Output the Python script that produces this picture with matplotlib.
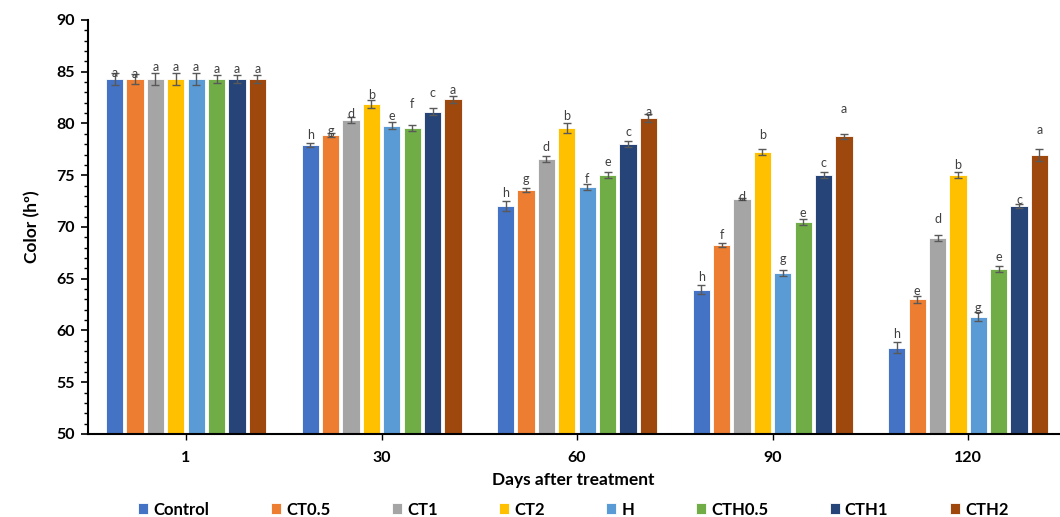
import numpy as np
import matplotlib
matplotlib.use('Agg')
import matplotlib.pyplot as plt
from matplotlib.ticker import MultipleLocator

plt.rcParams['font.family'] = ['Lato', 'DejaVu Sans']

days = ['1', '30', '60', '90', '120']
treatments = ['Control', 'CT0.5', 'CT1', 'CT2', 'H', 'CTH0.5', 'CTH1', 'CTH2']
colors = ['#4472C4', '#ED7D31', '#A5A5A5', '#FFC000', '#5B9BD5', '#70AD47', '#264478', '#9E480E']

# mean colour (h deg) per treatment, one value per day
control = [84.3, 77.95, 72.05, 63.95, 58.35]
ct05 = [84.3, 78.85, 73.6, 68.25, 63.0]
ct1 = [84.3, 80.35, 76.55, 72.75, 68.95]
ct2 = [84.3, 81.85, 79.55, 77.25, 75.05]
h = [84.3, 79.8, 73.85, 65.55, 61.35]
cth05 = [84.3, 79.6, 75.05, 70.5, 65.95]
cth1 = [84.3, 81.15, 78.05, 75.05, 72.05]
cth2 = [84.3, 82.35, 80.55, 78.75, 76.95]

err_control = [0.6, 0.2, 0.5, 0.4, 0.5]
err_ct05 = [0.5, 0.2, 0.2, 0.2, 0.3]
err_ct1 = [0.6, 0.3, 0.3, 0.1, 0.3]
err_ct2 = [0.6, 0.4, 0.5, 0.3, 0.3]
err_h = [0.6, 0.3, 0.3, 0.3, 0.4]
err_cth05 = [0.4, 0.3, 0.3, 0.3, 0.3]
err_cth1 = [0.4, 0.35, 0.3, 0.3, 0.2]
err_cth2 = [0.4, 0.35, 0.4, 0.2, 0.6]

letters_control = ['a', 'h', 'h', 'h', 'h']
letters_ct05 = ['a', 'g', 'g', 'f', 'e']
letters_ct1 = ['a', 'd', 'd', 'd', 'd']
letters_ct2 = ['a', 'b', 'b', 'b', 'b']
letters_h = ['a', 'e', 'f', 'g', 'g']
letters_cth05 = ['a', 'f', 'e', 'e', 'e']
letters_cth1 = ['a', 'c', 'c', 'c', 'c']
letters_cth2 = ['a', 'a', 'a', 'a', 'a']

means = [control, ct05, ct1, ct2, h, cth05, cth1, cth2]
errs = [err_control, err_ct05, err_ct1, err_ct2, err_h, err_cth05, err_cth1, err_cth2]
letters = [letters_control, letters_ct05, letters_ct1, letters_ct2, letters_h,
           letters_cth05, letters_cth1, letters_cth2]

# label gap above the error bar, in pixels (as placed in the original)
gaps = [[0, 8, 8, 8, 8],
        [0, 2, 9, 8, 5],
        [6, 3, 9, 1, 16],
        [6, 5, 7, 14, 7],
        [6, 6, 5, 11, 4],
        [6, 21, 10, 6, 9],
        [6, 15, 9, 9, 4],
        [6, 6, 2, 25, 19]]

fig = plt.figure(figsize=(10.6, 5.17), dpi=100)
ax = fig.add_axes([87.5 / 1060, 1 - 434 / 517, (1060 - 87.5) / 1060, 414 / 517])

x = np.arange(len(days))
step = 0.1043
width = 0.088
for i, name in enumerate(treatments):
    pos = x + (i - 3.5) * step
    ax.bar(pos, means[i], width, color=colors[i], edgecolor='white', linewidth=0.6,
           label=name, zorder=2)
    ax.errorbar(pos, means[i], yerr=errs[i], fmt='none', ecolor='#595959',
                elinewidth=1.0, capsize=3, capthick=1.0, zorder=3)
    for j in range(len(days)):
        ax.annotate(letters[i][j], (pos[j], means[i][j] + errs[i][j]),
                    xytext=(0, gaps[i][j] * 0.72), textcoords='offset points',
                    ha='center', va='center', fontsize=9, color='#404040', zorder=4)

ax.set_ylim(50, 90)
ax.set_xlim(-0.504, 4.47)
ax.yaxis.set_major_locator(MultipleLocator(5))
ax.yaxis.set_minor_locator(MultipleLocator(1))
ax.set_xticks(x)
ax.set_xticklabels(days)
for lab in ax.get_xticklabels() + ax.get_yticklabels():
    lab.set_fontweight('bold')
ax.tick_params(axis='y', which='major', length=5, width=1.2, labelsize=11.5, pad=4)
ax.tick_params(axis='y', which='minor', length=3, width=1.0)
ax.tick_params(axis='x', length=4, width=1.0, labelsize=11.5, pad=8)

for side in ['top', 'right']:
    ax.spines[side].set_visible(False)
ax.spines['left'].set_linewidth(1.5)
ax.spines['bottom'].set_linewidth(1.5)

ax.set_ylabel('Color (hº)', fontsize=12.5, fontweight='bold', labelpad=12)
ax.set_xlabel('Days after treatment', fontsize=12.5, fontweight='bold', labelpad=5)

leg = fig.legend(loc='lower center', bbox_to_anchor=(0.541, -0.03), ncol=8, frameon=False,
                 handlelength=0.6, handleheight=0.6, handletextpad=0.3, columnspacing=3.7,
                 prop={'weight': 'bold', 'size': 12})

fig.savefig('out.png', dpi=100)
